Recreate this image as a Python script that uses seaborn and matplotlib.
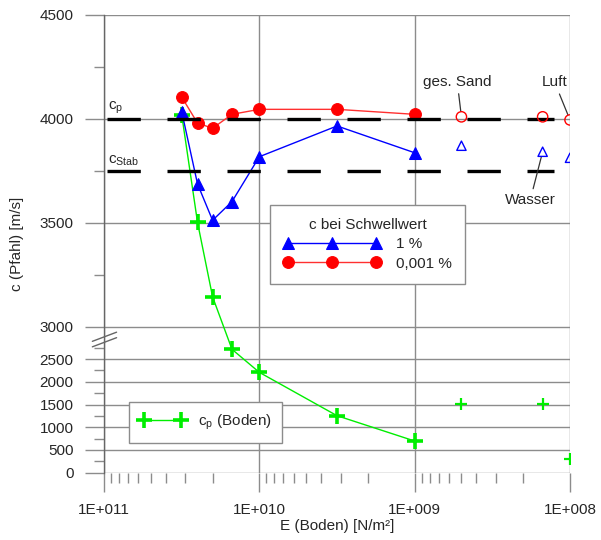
"""
Wave speed in the pile vs. soil stiffness (reversed log x, broken y axis).
"""
import numpy as np
import matplotlib
matplotlib.use("Agg")
import matplotlib.pyplot as plt
import matplotlib.ticker as mticker
import seaborn as sns

sns.set_theme(style="white")
plt.rcParams["font.family"] = ["Liberation Sans", "DejaVu Sans"]
plt.rcParams["mathtext.default"] = "regular"

# ── Data ──────────────────────────────────────────────────────────────────────
# 0,001 % threshold (red, filled + open markers)
e_red = [3.16e10, 2.5e10, 2e10, 1.5e10, 1e10, 3.16e9, 1e9]
c_red = [4105, 3980, 3955, 4022, 4046, 4046, 4022]
e_red_open = [5e8, 1.5e8, 1e8]
c_red_open = [4010, 4010, 3995]

# 1 % threshold (blue)
e_blue = [3.16e10, 2.5e10, 2e10, 1.5e10, 1e10, 3.16e9, 1e9]
c_blue = [4035, 3687, 3512, 3602, 3818, 3966, 3837]
e_blue_open = [5e8, 1.5e8, 1e8]
c_blue_open = [3871, 3842, 3813]

# compressional wave speed of the soil (green)
e_soil = [3.16e10, 2.5e10, 2e10, 1.5e10, 1e10, 3.16e9, 1e9]
c_soil = [4020, 3502, 3144, 2715, 2208, 1254, 697]
e_soil_extra = [5e8, 1.5e8, 1e8]
c_soil_extra = [1505, 1505, 295]

# reference speeds in the pile
c_ref = [4000, 3750]
c_ref_labels = [r"c$_{p}$", r"c$_{Stab}$"]

x_ticks = [1e11, 1e10, 1e9, 1e8]
x_ticklabels = ["1E+011", "1E+010", "1E+009", "1E+008"]
y_major = [0, 500, 1000, 1500, 2000, 2500, 3000, 3500, 4000, 4500]
y_minor = [250, 750, 1250, 1750, 2250, 2750, 3250, 3750, 4250]

RED, BLUE, GREEN, GRID = "#ff0000", "#0000ff", "#00ee00", "#8c8c8c"

# ── Broken y scale: compressed 0–2900, stretched 3000–4500 ───────────────────
_YV = [-1e5, 0, 2900, 3000, 4500, 1e5]
_YP = [-4546, 0, 131.8, 146.0, 457.7, 457.7 + 95500 * 0.2078]


def _fwd(v):
    return np.interp(v, _YV, _YP)


def _inv(p):
    return np.interp(p, _YP, _YV)


fig = plt.figure(figsize=(6.01, 5.40), dpi=100)
ax = fig.add_axes([104 / 601, 1 - 472.7 / 540, 466 / 601, 457.7 / 540])

ax.set_xscale("log")
ax.set_yscale("function", functions=(_fwd, _inv))
ax.set_xlim(1e11, 1e8)
ax.set_ylim(0, 4500)

# ── Series ────────────────────────────────────────────────────────────────────
sns.lineplot(x=e_soil, y=c_soil, ax=ax, color=GREEN, lw=1, marker="P",
             markersize=0, label=None)
ax.lines[-1].set(marker="+", markersize=11, markeredgewidth=2.6,
                 markeredgecolor=GREEN)
soil_line = ax.lines[-1]

sns.lineplot(x=e_blue, y=c_blue, ax=ax, color=BLUE, lw=1, marker="^",
             markersize=8, markeredgecolor=BLUE)
blue_line = ax.lines[-1]

sns.lineplot(x=e_red, y=c_red, ax=ax, color="#ff3030", lw=1, marker="o",
             markersize=8.5, markerfacecolor=RED, markeredgecolor=RED)
red_line = ax.lines[-1]

sns.scatterplot(x=e_red_open, y=c_red_open, ax=ax, marker="o", s=55,
                facecolor="none", edgecolor=RED, linewidth=1, zorder=4)
sns.scatterplot(x=e_blue_open, y=c_blue_open, ax=ax, marker="^", s=45,
                facecolor="none", edgecolor=BLUE, linewidth=1, zorder=4)
sns.scatterplot(x=e_soil_extra, y=c_soil_extra, ax=ax, marker="+", s=80,
                color=GREEN, linewidth=1.6, zorder=4)

# dashed reference lines c_p and c_Stab
for c, lab in zip(c_ref, c_ref_labels):
    ax.hlines(c, 9.5e10, 1.27e8, colors="black", lw=2.4,
              linestyles=(0, (10, 8)), zorder=3)
    ax.text(9.4e10, c + 14, lab, fontsize=11, ha="left", va="bottom")

# point annotations
ann = dict(arrowprops=dict(arrowstyle="-", color="#333333", lw=0.9,
                           shrinkA=1, shrinkB=4),
           textcoords="offset points", fontsize=11, ha="center", va="center")
ax.annotate("ges. Sand", xy=(e_red_open[0], c_red_open[0]), xytext=(-3, 25), **ann)
ax.annotate("Luft", xy=(e_red_open[2], c_red_open[2]), xytext=(-11, 27), **ann)
ax.annotate("Wasser", xy=(e_blue_open[1], c_blue_open[1]), xytext=(-9, -35), **ann)

# ── Axes styling ──────────────────────────────────────────────────────────────
ax.xaxis.set_major_locator(mticker.FixedLocator(x_ticks))
ax.xaxis.set_major_formatter(mticker.FixedFormatter(x_ticklabels))
ax.xaxis.set_minor_locator(mticker.LogLocator(base=10, subs=np.arange(2, 10)))
ax.xaxis.set_minor_formatter(mticker.NullFormatter())
ax.yaxis.set_major_locator(mticker.FixedLocator(y_major))
ax.yaxis.set_minor_locator(mticker.FixedLocator(y_minor))
ax.yaxis.set_major_formatter(mticker.FormatStrFormatter("%d"))

ax.tick_params(which="major", direction="out", length=14, width=1,
               color=GRID, labelsize=11, pad=8)
ax.tick_params(which="minor", direction="out", length=7, width=1, color=GRID)
ax.tick_params(axis="both", bottom=True, left=True, which="both")
ax.grid(True, which="major", color=GRID, lw=1)

for side in ("top", "right", "bottom"):
    ax.spines[side].set_visible(False)
ax.spines["left"].set_color("#666666")
ax.spines["left"].set_linewidth(1)

ax.set_xlabel("E (Boden) [N/m²]", fontsize=11, labelpad=1)
ax.set_ylabel("c (Pfahl) [m/s]", fontsize=11, labelpad=11)

# axis break mark
for dy in (0.0, -0.012):
    ax.plot([-0.025, 0.027], [0.287 + dy, 0.307 + dy], color="#666666",
            lw=1, transform=ax.transAxes, clip_on=False)

# ── Legends ───────────────────────────────────────────────────────────────────
frame = dict(frameon=True, fancybox=False, framealpha=1, edgecolor=GRID,
             fontsize=11, borderaxespad=0, bbox_transform=fig.transFigure,
             loc="upper left")
leg1 = ax.legend([blue_line, red_line], ["1 %", "0,001 %"],
                 title="c bei Schwellwert", title_fontsize=11, numpoints=3,
                 handlelength=6.4, handletextpad=1.0, labelspacing=0.35,
                 borderpad=0.85, bbox_to_anchor=(270 / 601, 1 - 205 / 540),
                 **frame)
leg1.get_frame().set_linewidth(1)
ax.add_artist(leg1)

leg2 = ax.legend([soil_line], [r"c$_{p}$ (Boden)"], numpoints=2,
                 handlelength=3.0, handletextpad=0.8, borderpad=0.7,
                 bbox_to_anchor=(129 / 601, 1 - 402 / 540), **frame)
leg2.get_frame().set_linewidth(1)

fig.savefig("out.png", dpi=100)
